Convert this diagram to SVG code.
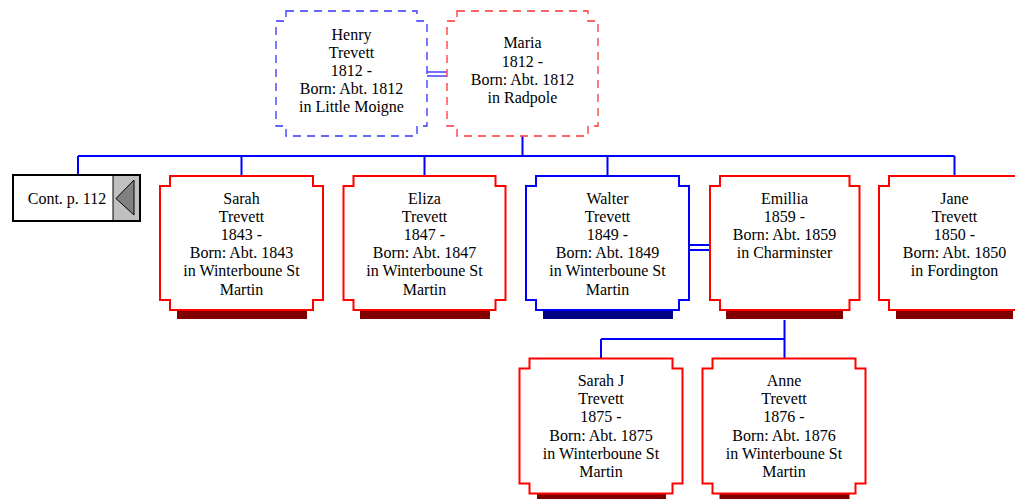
<svg xmlns="http://www.w3.org/2000/svg" width="1015" height="499" viewBox="0 0 1015 499">
<style>
.t{font-family:"Liberation Serif","Times New Roman",serif;font-size:16px;fill:#000;text-anchor:middle}
.f{fill:#fff;stroke:#f00;stroke-width:2}
.m{fill:#fff;stroke:#00f;stroke-width:2}
.fd{fill:#fff;stroke:#f33;stroke-width:1.3;stroke-dasharray:8 6}
.md{fill:#fff;stroke:#33f;stroke-width:1.3;stroke-dasharray:8 6}
.sf{fill:#800000}
.sm{fill:#000080}
.c{fill:none;stroke:#00f;stroke-width:2}
.cc{fill:none;stroke:#44f;stroke-width:1.5}
</style>
<rect width="1015" height="499" fill="#fff"/>
<g id="connectors">
<path class="cc" d="M427 72H447M427 76H447"/>
<path class="c" d="M522.5 136V156M78 156H954.5M78 156V175M241.5 156V176M424.5 156V176M607.5 156V176M954.5 156V176"/>
<path class="c" d="M689 245H710M689 250H710"/>
<path class="c" d="M784.5 320V358.5M601 339H784.5M601 339V358.5"/>
</g>
<g id="henry">
<path class="md" d="M286 11H417V21H427V126H417V136H286V126H276V21H286Z"/>
<text class="t" x="351.5" y="39.5">Henry</text>
<text class="t" x="351.5" y="57.7">Trevett</text>
<text class="t" x="351.5" y="75.9">1812 -</text>
<text class="t" x="351.5" y="94.1">Born: Abt. 1812</text>
<text class="t" x="351.5" y="112.3">in Little Moigne</text>
</g>
<g id="maria">
<path class="fd" d="M457 11H588V21H598V126H588V136H457V126H447V21H457Z"/>
<text class="t" x="522.5" y="48.3">Maria</text>
<text class="t" x="522.5" y="66.5">1812 -</text>
<text class="t" x="522.5" y="84.7">Born: Abt. 1812</text>
<text class="t" x="522.5" y="102.9">in Radpole</text>
</g>
<g id="cont">
<rect x="13" y="175" width="127" height="46" fill="#fff" stroke="#000" stroke-width="2"/>
<rect x="113" y="176" width="26" height="44" fill="#c0c0c0"/>
<line x1="113" y1="176" x2="113" y2="220" stroke="#000" stroke-width="1"/>
<path d="M116 198.5L134 180V215Z" fill="#808080" stroke="#000" stroke-width="1"/>
<text class="t" x="67" y="203.5">Cont. p. 112</text>
</g>
<g id="sarah">
<rect class="sf" x="177" y="311" width="130" height="8"/>
<path class="f" d="M170 176H313V186H323V300H313V310H170V300H160V186H170Z"/>
<text class="t" x="241.5" y="203.5">Sarah</text>
<text class="t" x="241.5" y="221.7">Trevett</text>
<text class="t" x="241.5" y="239.9">1843 -</text>
<text class="t" x="241.5" y="258.1">Born: Abt. 1843</text>
<text class="t" x="241.5" y="276.3">in Winterboune St</text>
<text class="t" x="241.5" y="294.5">Martin</text>
</g>
<g id="eliza">
<rect class="sf" x="360" y="311" width="130" height="8"/>
<path class="f" d="M353.5 176H495.5V186H505.5V300H495.5V310H353.5V300H343.5V186H353.5Z"/>
<text class="t" x="424.5" y="203.5">Eliza</text>
<text class="t" x="424.5" y="221.7">Trevett</text>
<text class="t" x="424.5" y="239.9">1847 -</text>
<text class="t" x="424.5" y="258.1">Born: Abt. 1847</text>
<text class="t" x="424.5" y="276.3">in Winterboune St</text>
<text class="t" x="424.5" y="294.5">Martin</text>
</g>
<g id="walter">
<rect class="sm" x="543" y="311" width="130" height="8"/>
<path class="m" d="M536 176H679V186H689V300H679V310H536V300H526V186H536Z"/>
<text class="t" x="607.5" y="203.5">Walter</text>
<text class="t" x="607.5" y="221.7">Trevett</text>
<text class="t" x="607.5" y="239.9">1849 -</text>
<text class="t" x="607.5" y="258.1">Born: Abt. 1849</text>
<text class="t" x="607.5" y="276.3">in Winterboune St</text>
<text class="t" x="607.5" y="294.5">Martin</text>
</g>
<g id="emillia">
<rect class="sf" x="726" y="311" width="117" height="8"/>
<path class="f" d="M720 176H849.5V186H859.5V300H849.5V310H720V300H710V186H720Z"/>
<text class="t" x="784.5" y="203.5">Emillia</text>
<text class="t" x="784.5" y="221.7">1859 -</text>
<text class="t" x="784.5" y="239.9">Born: Abt. 1859</text>
<text class="t" x="784.5" y="258.1">in Charminster</text>
</g>
<g id="jane">
<rect class="sf" x="896" y="311" width="117" height="8"/>
<path class="f" d="M889 176H1032V186H1042V300H1032V310H889V300H879V186H889Z"/>
<text class="t" x="954.5" y="203.5">Jane</text>
<text class="t" x="954.5" y="221.7">Trevett</text>
<text class="t" x="954.5" y="239.9">1850 -</text>
<text class="t" x="954.5" y="258.1">Born: Abt. 1850</text>
<text class="t" x="954.5" y="276.3">in Fordington</text>
</g>
<g id="sarahj">
<rect class="sf" x="537" y="494" width="129" height="8"/>
<path class="f" d="M529.5 358.5H672.5V368.5H682.5V483.5H672.5V493.5H529.5V483.5H519.5V368.5H529.5Z"/>
<text class="t" x="601" y="386">Sarah J</text>
<text class="t" x="601" y="404.2">Trevett</text>
<text class="t" x="601" y="422.4">1875 -</text>
<text class="t" x="601" y="440.6">Born: Abt. 1875</text>
<text class="t" x="601" y="458.8">in Winterboune St</text>
<text class="t" x="601" y="477">Martin</text>
</g>
<g id="anne">
<rect class="sf" x="719.5" y="494" width="130" height="8"/>
<path class="f" d="M712.5 358.5H855.5V368.5H865.5V483.5H855.5V493.5H712.5V483.5H702.5V368.5H712.5Z"/>
<text class="t" x="784" y="386">Anne</text>
<text class="t" x="784" y="404.2">Trevett</text>
<text class="t" x="784" y="422.4">1876 -</text>
<text class="t" x="784" y="440.6">Born: Abt. 1876</text>
<text class="t" x="784" y="458.8">in Winterboune St</text>
<text class="t" x="784" y="477">Martin</text>
</g>
</svg>
